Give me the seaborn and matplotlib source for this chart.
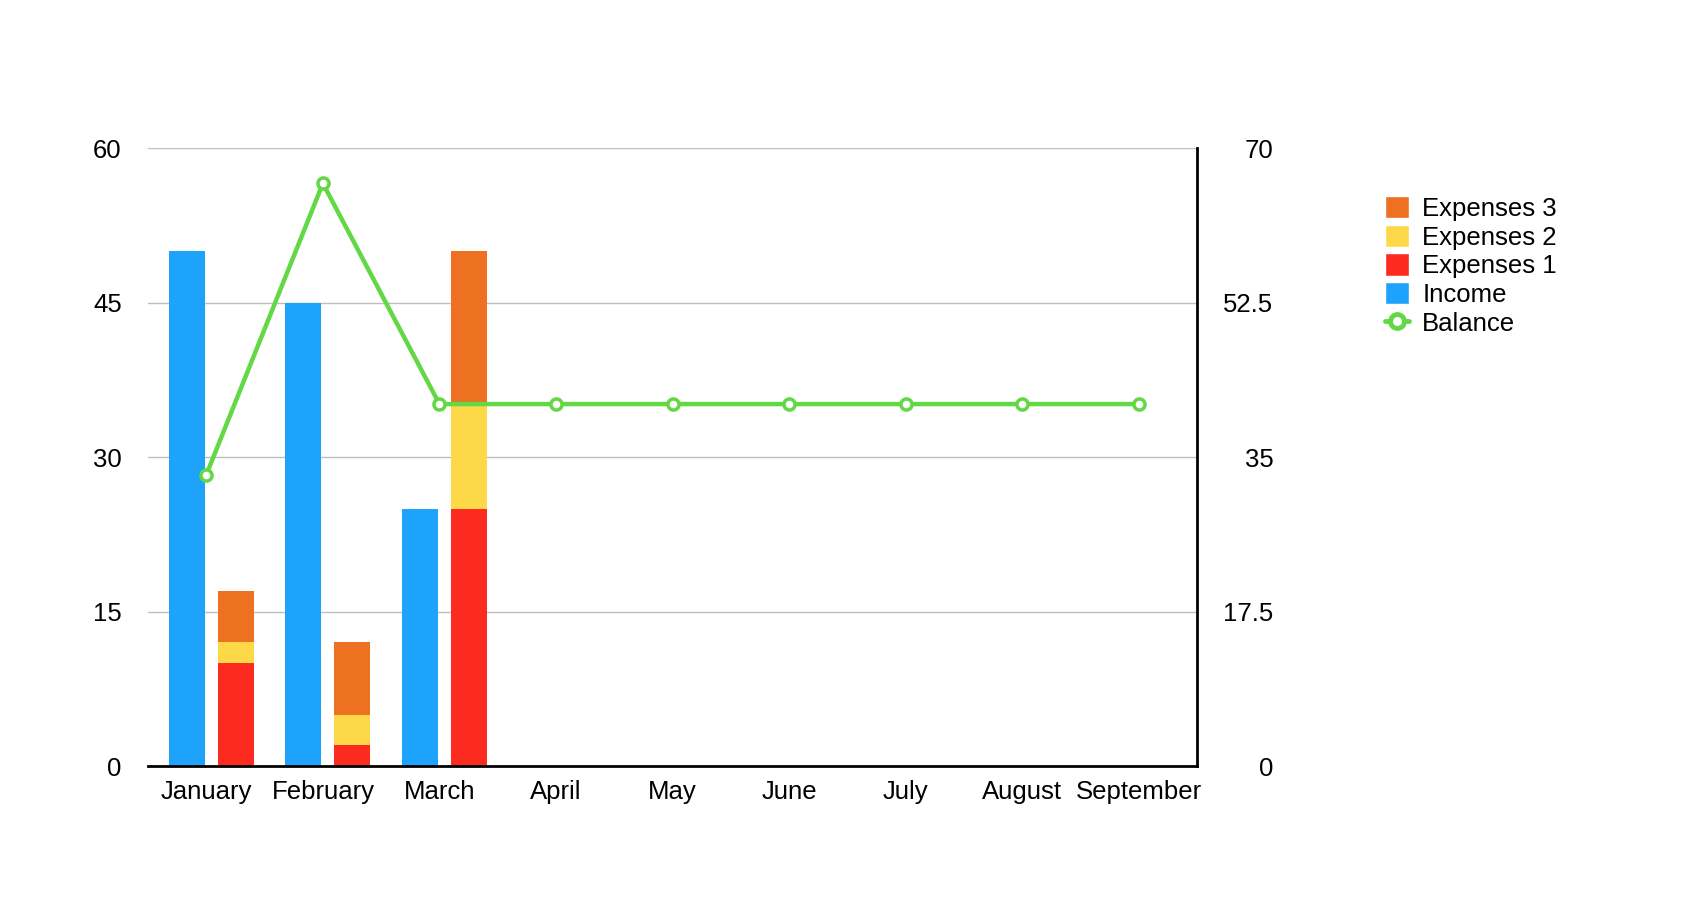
import numpy as np
import matplotlib
matplotlib.use("Agg")
import matplotlib.pyplot as plt
import seaborn as sns
from matplotlib.patches import Patch
from matplotlib.lines import Line2D

# =========================
# Dados
# =========================
months = ["January", "February", "March", "April", "May", "June",
          "July", "August", "September"]
income = [50, 45, 25]
expenses_1 = [10, 2, 25]
expenses_2 = [2, 3, 10]
expenses_3 = [5, 7, 15]
balance = [33, 66, 41, 41, 41, 41, 41, 41, 41]

left_ticks = [0, 15, 30, 45, 60]
right_ticks = [0, 17.5, 35, 52.5, 70]
right_labels = ["0", "17.5", "35", "52.5", "70"]

c_income = "#1DA3FB"
c_e1 = "#FD2B1F"
c_e2 = "#FDD94A"
c_e3 = "#EE7121"
c_bal = "#62D845"

sns.set_theme(style="white")
plt.rcParams["font.family"] = ["Liberation Sans", "DejaVu Sans"]
plt.rcParams["text.color"] = "black"

fig = plt.figure(figsize=(16.94, 9.06), dpi=100)
ax = fig.add_axes([0.0874, 0.1545, 0.6192, 0.6821])

# barras
n = len(income)
x = np.arange(n)
w = 0.31
e1 = np.array(expenses_1)
e2 = np.array(expenses_2)
e3 = np.array(expenses_3)
ax.bar(x - 0.167, income, width=w, color=c_income, linewidth=0, zorder=2)
ax.bar(x + 0.253, e1, width=w, color=c_e1, linewidth=0, zorder=2)
ax.bar(x + 0.253, e2, width=w, bottom=e1, color=c_e2, linewidth=0, zorder=2)
ax.bar(x + 0.253, e3, width=w, bottom=e1 + e2, color=c_e3, linewidth=0, zorder=2)

ax.set_xlim(-0.5, len(months) - 0.5)
ax.set_ylim(0, 60)
ax.set_yticks(left_ticks)
ax.set_yticklabels([str(t) for t in left_ticks])
ax.set_xticks(np.arange(len(months)))
ax.set_xticklabels(months)
ax.yaxis.grid(True, color="#BFBFBF", linewidth=1.0)
ax.set_axisbelow(True)
ax.tick_params(axis="y", length=0, pad=19, labelsize=18.5, labelcolor="black")
ax.tick_params(axis="x", length=0, pad=10, labelsize=18.5, labelcolor="black")
for s in ["left", "top", "right"]:
    ax.spines[s].set_visible(False)
ax.spines["bottom"].set_color("black")
ax.spines["bottom"].set_linewidth(2)

# eixo direito (balance)
ax2 = ax.twinx()
sns.lineplot(x=np.arange(len(months)), y=balance, ax=ax2, color=c_bal,
             linewidth=3.2, marker="o", markersize=8, markerfacecolor="white",
             markeredgecolor=c_bal, markeredgewidth=2.5, zorder=5)
ax2.set_ylim(0, 70)
ax2.set_yticks(right_ticks)
ax2.set_yticklabels(right_labels, ha="right")
ax2.tick_params(axis="y", length=0, pad=55, labelsize=18.5, labelcolor="black")
for s in ["left", "top", "bottom"]:
    ax2.spines[s].set_visible(False)
ax2.spines["right"].set_color("black")
ax2.spines["right"].set_linewidth(2)
ax2.set_xlim(-0.5, len(months) - 0.5)

# legenda
handles = [
    Patch(facecolor=c_e3, label="Expenses 3"),
    Patch(facecolor=c_e2, label="Expenses 2"),
    Patch(facecolor=c_e1, label="Expenses 1"),
    Patch(facecolor=c_income, label="Income"),
    Line2D([0], [0], color=c_bal, linewidth=3.5, marker="o", markersize=10,
           markerfacecolor="white", markeredgewidth=3.5, label="Balance"),
]
fig.legend(handles=handles, loc="upper left", bbox_to_anchor=(0.81, 0.798),
           frameon=False, fontsize=18.5, handlelength=0.95, handleheight=0.95,
           handletextpad=0.5, labelspacing=0.15, borderpad=0,
           labelcolor="black")

fig.savefig("out.png", dpi=100)
